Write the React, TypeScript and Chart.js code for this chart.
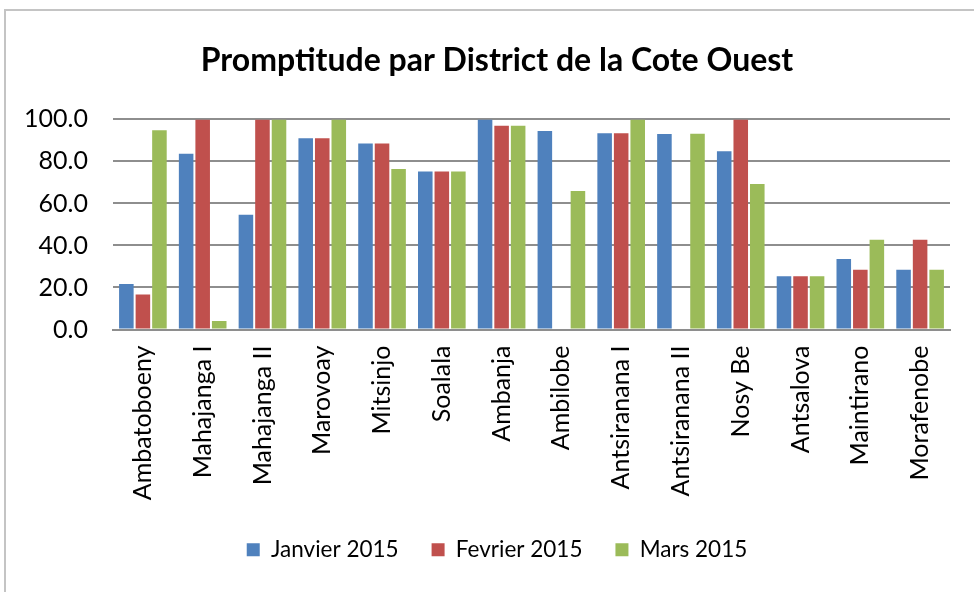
import React, { useEffect, useRef } from "react";
import { Chart, registerables } from "chart.js";

Chart.register(...registerables);

const categories = [
  "Ambatoboeny", "Mahajanga I", "Mahajanga II", "Marovoay", "Mitsinjo", "Soalala",
  "Ambanja", "Ambilobe", "Antsiranana I", "Antsiranana II", "Nosy Be", "Antsalova",
  "Maintirano", "Morafenobe",
];
const janvier2015 = [21.7, 83.7, 54.6, 91.0, 88.5, 75.2, 100, 94.5, 93.4, 93.0, 84.8, 25.3, 33.5, 28.4];
const fevrier2015 = [16.6, 100, 100, 91.0, 88.5, 75.2, 97.0, 0, 93.4, 0, 100, 25.3, 28.4, 42.7];
const mars2015 = [94.8, 4.1, 100, 100, 76.4, 75.2, 97.0, 65.9, 100, 93.2, 69.3, 25.3, 42.7, 28.4];
const seriesNames = ["Janvier 2015", "Fevrier 2015", "Mars 2015"];
const titleText = "Promptitude par District de la Cote Ouest";

const FONT = "Lato, 'Noto Sans', sans-serif";

export default function App() {
  const ref = useRef<HTMLCanvasElement | null>(null);
  useEffect(() => {
    if (!ref.current) return;
    const chart = new Chart(ref.current, {
      type: "bar",
      data: {
        labels: categories,
        datasets: [
          { label: seriesNames[0], data: janvier2015, backgroundColor: "#4F81BD" },
          { label: seriesNames[1], data: fevrier2015, backgroundColor: "#C0504D" },
          { label: seriesNames[2], data: mars2015, backgroundColor: "#9BBB59" },
        ],
      },
      options: {
        responsive: false,
        animation: false,
        devicePixelRatio: 1,
        layout: { padding: { left: 20, right: 0, top: 0, bottom: 21 } },
        datasets: { bar: { categoryPercentage: 0.83, barPercentage: 0.88, borderWidth: 0 } },
        scales: {
          x: {
            grid: { display: false, drawTicks: false },
            border: { display: true, color: "#8e8e8e", width: 2 },
            ticks: {
              color: "#000",
              font: { family: FONT, size: 25 },
              minRotation: 90,
              maxRotation: 90,
              autoSkip: false,
              padding: 16,
            },
            afterFit: (s: any) => { s.height = 176; },
          },
          y: {
            min: 0,
            max: 100,
            grid: { color: "#8e8e8e", lineWidth: 2, drawTicks: false },
            border: { display: false },
            ticks: {
              stepSize: 20,
              color: "#000",
              font: { family: FONT, size: 25 },
              padding: 25,
              callback: (v: any) => Number(v).toFixed(1),
            },
            afterFit: (s: any) => { s.width = 93; },
          },
          y2: {
            position: "right",
            display: true,
            grid: { display: false, drawOnChartArea: false, drawTicks: false },
            border: { display: false },
            ticks: { display: false },
            afterFit: (s: any) => { s.width = 24; },
          },
        },
        plugins: {
          title: {
            display: true,
            text: titleText,
            color: "#000",
            font: { family: FONT, size: 32, weight: "bold" },
            padding: { top: 41, bottom: 40 },
          },
          legend: {
            position: "bottom",
            labels: {
              color: "#000",
              font: { family: FONT, size: 22.5 },
              boxWidth: 13,
              boxHeight: 13,
              padding: 33,
            },
          },
          tooltip: { enabled: false },
        },
      },
    });
    return () => chart.destroy();
  }, []);
  return (
    <div style={{ position: "fixed", left: 0, top: 0, width: 974, height: 592, background: "#fff", overflow: "hidden" }}>
      <div style={{ position: "absolute", left: 4, top: 9, width: 1200, height: 1200, borderLeft: "2px solid #c4c4c4", borderTop: "2px solid #c4c4c4" }} />
      <canvas ref={ref} width={974} height={592} style={{ position: "absolute", left: 0, top: 0, width: 974, height: 592 }} />
    </div>
  );
}
